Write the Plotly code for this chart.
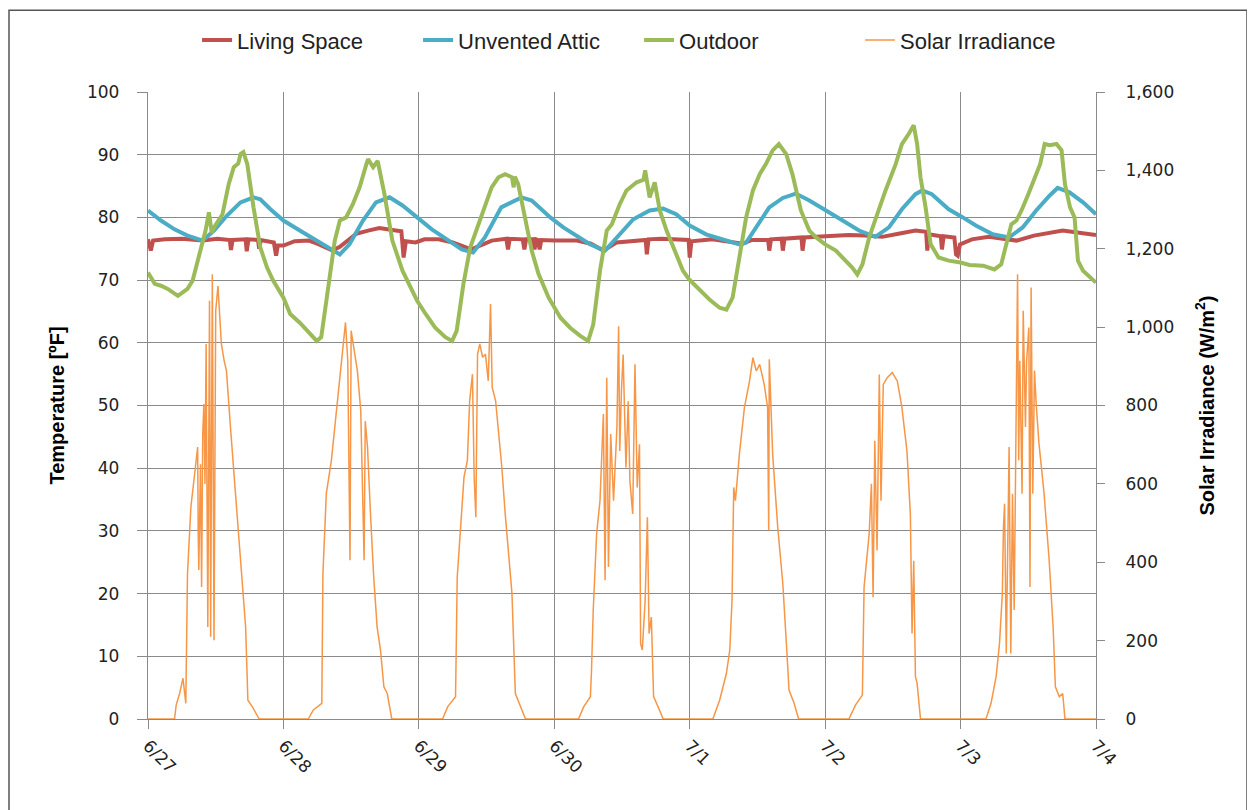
import plotly.graph_objects as go

# ---- tick labels (days) ----
day_hours = [0, 24, 48, 72, 96, 120, 144, 168]
day_labels = ["6/27", "6/28", "6/29", "6/30", "7/1", "7/2", "7/3", "7/4"]

# ---- Outdoor temperature (hours since 6/27 00:00, deg F) ----
outdoor_h = [0, 1.2, 2.3, 3.5, 5.3, 7.0, 7.9, 9.1, 10.2, 10.8, 11.3, 11.7, 13.2, 14.3, 15.2, 16.0,
             16.4, 16.9, 17.6, 18.7, 19.9, 21.1, 22.2, 24.0, 25.2, 26.9, 28.7, 29.9, 30.7, 31.9,
             33.1, 34.0, 35.1, 36.3, 37.5, 38.7, 39.0, 39.9, 40.7, 41.9, 43.3, 45.1, 46.2, 47.7,
             49.2, 50.9, 52.7, 53.9, 54.7, 55.9, 57.1, 58.5, 59.7, 60.9, 62.1, 63.3, 64.5, 64.8,
             65.0, 65.6, 66.8, 68.0, 69.2, 71.0, 73.1, 74.8, 76.6, 78.0, 78.9, 80.1, 81.3, 82.2,
             83.6, 84.8, 86.6, 87.8, 88.1, 88.9, 89.8, 90.7, 91.9, 93.4, 94.8, 95.9, 97.8, 99.5,
             101.3, 102.5, 103.6, 104.8, 106.0, 107.2, 108.4, 109.5, 110.7, 111.8, 113.1, 114.2,
             115.7, 117.2, 118.4, 120.0, 121.9, 123.6, 124.8, 125.7, 126.6, 127.8, 129.2, 130.7,
             132.5, 133.6, 134.8, 135.7, 136.3, 136.9, 137.8, 138.7, 140.1, 141.9, 144.0, 145.6,
             148.0, 150.0, 151.2, 152.1, 153.0, 153.9, 154.8, 156.0, 157.2, 158.1, 158.9, 159.8,
             161.0, 161.9, 162.5, 163.4, 164.2, 164.8, 165.7, 166.9, 168.0]
outdoor_t = [71.2, 69.4, 69.1, 68.6, 67.5, 68.6, 69.9, 74.1, 77.9, 80.8, 77.5, 78.4, 80.5, 85.3, 88.0, 88.6,
             90.1, 90.4, 88.5, 81.6, 75.2, 72.0, 69.9, 67.2, 64.6, 63.2, 61.4, 60.3, 60.9, 68.3,
             76.3, 79.5, 80.0, 82.1, 84.8, 88.5, 89.3, 88.0, 89.0, 83.7, 76.3, 71.5, 69.4, 66.7,
             64.6, 62.4, 60.9, 60.3, 61.9, 69.4, 75.2, 78.9, 81.6, 84.8, 86.4, 86.9, 86.4, 84.8,
             86.5, 85.3, 80.0, 74.7, 71.0, 67.2, 64.0, 62.4, 61.1, 60.3, 62.9, 71.5, 77.9, 78.9,
             82.1, 84.3, 85.6, 86.0, 87.5, 83.2, 85.6, 81.1, 77.9, 74.7, 71.5, 70.1, 68.3, 66.9,
             65.6, 65.3, 67.2, 74.1, 80.0, 84.3, 86.9, 88.5, 90.7, 91.7, 90.1, 86.9,
             81.1, 77.9, 76.8, 75.7, 74.7, 73.1, 72.0, 70.9, 72.5, 76.8, 80.5, 84.3,
             88.5, 91.7, 93.3, 94.7, 91.7, 86.4, 81.6, 75.7, 73.6, 73.1, 72.8, 72.4,
             72.3, 71.7, 72.5, 75.7, 78.9, 79.5, 81.1, 83.7, 86.4, 88.5, 91.7, 91.5,
             91.7, 90.7, 85.3, 81.6, 80.0, 73.1, 71.5, 70.4, 69.6]

# ---- Unvented attic temperature ----
attic_h = [0, 2.3, 4.7, 7.0, 9.7, 11.7, 14.0, 16.4, 18.7, 19.9, 21.7, 24.0, 26.9, 29.9, 32.2, 34.0,
           35.7, 38.1, 40.4, 42.8, 45.1, 47.7, 50.3, 53.3, 55.6, 57.6, 59.7, 62.6, 64.4, 66.2, 68.0,
           70.2, 71.3, 73.6, 76.0, 78.4, 81.0, 83.1, 86.0, 88.9, 91.3, 93.6, 96.0, 98.9, 101.9,
           104.8, 106.0, 107.8, 110.1, 112.5, 114.8, 117.2, 120.0, 123.1, 126.0, 128.9, 131.3,
           133.6, 136.0, 137.2, 138.9, 141.9, 144.4, 146.7, 149.7, 152.6, 155.0, 157.4, 159.8,
           161.2, 163.3, 165.7, 168.0]
attic_t = [81.1, 79.5, 78.1, 77.1, 76.3, 77.9, 80.3, 82.4, 83.2, 82.9, 81.3, 79.5, 77.9, 76.3, 74.9, 74.1,
           75.7, 79.5, 82.4, 83.2, 81.9, 80.0, 78.1, 76.3, 74.9, 74.4, 76.8, 81.6, 82.4, 83.2, 82.7,
           80.8, 80.0, 78.4, 77.1, 75.7, 74.7, 76.8, 79.7, 81.1, 81.4, 80.5, 78.7, 77.3, 76.5,
           75.7, 76.0, 78.4, 81.6, 83.1, 83.8, 82.7, 81.1, 79.5, 77.9, 76.9, 78.4,
           81.3, 83.7, 84.3, 83.7, 81.3, 80.0, 78.7, 77.3, 76.8, 78.4, 81.1, 83.5,
           84.7, 84.0, 82.4, 80.5]

# ---- Living space temperature ----
living_h = [0, 0.5, 0.9, 3, 6, 9.7, 12.3, 14.5, 14.7, 15.0, 17.3, 17.5, 17.8, 19.5, 19.7, 20.0,
            22.3, 22.7, 23.0, 24.0, 26.0, 28.5, 30.0, 32.7, 34.0, 36.9, 39.0, 41.0, 43.3, 44.9,
            45.3, 45.7, 47.4, 49.0, 51.5, 54.0, 57.3, 60.9, 63.5, 63.8, 64.1, 66.4, 66.7, 67.0,
            68.2, 68.5, 68.8, 69.1, 69.4, 69.7, 72, 76, 78.5, 80.7, 83.0, 86.0, 88.2, 88.4, 88.7,
            91, 93, 95.8, 96.0, 96.3, 100, 103, 105.4, 107, 109.9, 110.1, 110.4, 112.3, 112.5,
            112.8, 115.8, 116.0, 116.3, 118.4, 121, 124.2, 127, 130.1, 133, 136.0, 137.9, 138.1,
            138.4, 140.5, 140.7, 141.0, 142.9, 143.2, 143.5, 143.9, 146, 149, 153.9, 157, 162.1,
            165, 168]
living_t = [76.5, 74.7, 76.3, 76.5, 76.6, 76.3, 76.6, 76.4, 74.8, 76.4, 76.5, 74.6, 76.5, 76.4, 75.0, 76.4,
            76.0, 73.9, 75.5, 75.5, 76.2, 76.3, 75.8, 74.7, 75.3, 77.4, 77.9, 78.3, 78.0, 77.8,
            73.6, 76.2, 76.0, 76.5, 76.5, 76.0, 74.9, 76.3, 76.6, 74.9, 76.6, 76.5, 74.9, 76.5,
            76.5, 74.9, 76.5, 76.4, 74.9, 76.4, 76.3, 76.3, 75.8, 74.7, 76.0, 76.3, 76.4, 74.1, 76.5,
            76.6, 76.5, 76.4, 73.6, 76.2, 76.5, 76.2, 75.8, 76.4, 76.4, 74.7, 76.5, 76.6, 74.7,
            76.6, 76.8, 74.7, 76.8, 76.9, 77.0, 77.2, 77.1, 76.9, 77.4, 77.9, 77.7, 74.7,
            77.3, 77.0, 74.9, 77.0, 76.8, 74.1, 73.9, 75.7, 76.5, 76.9, 76.3, 77.1, 77.9,
            77.6, 77.2]

# ---- Solar irradiance (W/m2) ----
solar_h = [0, 4.7, 5.0, 5.6, 6.2, 6.5, 6.7, 7.0, 7.6, 8.2, 8.8, 8.9, 9.0, 9.3, 9.5, 9.7, 9.9, 10.1,
           10.3, 10.6, 10.9, 11.1, 11.4, 11.7, 12.0, 12.4, 12.8, 13.0, 13.5, 13.9, 14.7, 15.5, 16.4,
           17.3, 17.7, 18.5, 19.7,
           28.4, 29.3, 30.8, 31.0, 31.6, 32.5, 33.1, 33.7, 34.2, 34.6, 35.0, 35.4, 35.8, 36.0, 36.5,
           37.1, 37.7, 38.3, 38.5, 38.9, 39.4, 40.0, 40.6, 41.2, 41.8, 42.4, 43.2,
           52.2, 53.1, 54.5, 54.8, 55.4, 56.0, 56.6, 57.0, 57.5, 57.8, 58.1, 58.4, 58.8, 59.3, 59.8,
           60.3, 60.7, 61.0, 61.6, 62.2, 62.7, 63.3, 63.9, 64.5, 65.1, 66.0, 66.9,
           76.3, 77.2, 78.4, 78.6, 78.9, 79.5, 80.1, 80.7, 81.0, 81.3, 81.6, 82.0, 82.5, 83.1, 83.4,
           83.6, 83.9, 84.2, 84.7, 85.1, 85.4, 85.9, 86.3, 86.7, 87.1, 87.3, 87.6, 88.1, 88.5, 88.8,
           89.2, 89.6, 90.4, 91.3,
           100.1, 101.3, 102.5, 103.1, 103.5, 103.8, 104.1, 104.8, 105.7, 106.6, 107.2, 107.8, 108.4,
           109.2, 109.8, 110.0, 110.1, 110.7, 111.6, 112.5, 113.2, 113.6, 114.5, 115.3,
           124.2, 125.4, 126.6, 126.9, 127.8, 128.2, 128.5, 128.8, 129.2, 129.5, 129.6, 129.9, 130.3,
           131.0, 131.9, 132.8, 133.6, 134.5, 135.1, 135.4, 135.7, 136.0, 136.3, 136.9,
           148.5, 149.4, 150.3, 150.9, 151.4, 151.6, 151.8, 152.1, 152.4, 152.6, 152.9, 153.2, 153.5,
           153.8, 154.1, 154.3, 154.5, 154.9, 155.1, 155.5, 155.7, 156.1, 156.3, 156.5, 156.8, 157.1,
           157.4, 157.9, 158.8, 159.7, 160.4, 160.8, 161.5, 162.1, 162.5, 168]
solar_w = [0, 0, 36, 65, 104, 60, 40, 371, 541, 617, 694, 473, 380, 650, 337, 728, 804, 600,
           957, 235, 1067, 210, 1135, 201, 1042, 1105, 1016, 957, 914, 889, 728, 575, 405,
           235, 48, 31, 0,
           0, 23, 40, 371, 575, 660, 745, 830, 914, 957, 1012, 914, 405, 991, 948,
           889, 787, 405, 760, 694, 532, 362, 235, 176, 82, 65, 0,
           0, 31, 57, 362, 490, 617, 660, 812, 880, 617, 515, 931, 957, 923, 931,
           863, 1059, 846, 812, 728, 643, 524, 422, 320, 65, 31, 0,
           0, 31, 57, 125, 277, 472, 557, 778, 354, 871, 388, 727, 557, 744, 1002,
           684, 837, 930, 642, 811, 608, 523, 905, 591, 701, 192, 176, 303, 515, 218,
           260, 57, 31, 0,
           0, 48, 116, 176, 303, 591, 557, 676, 795, 862, 922, 888, 905,
           854, 795, 481, 918, 676, 489, 345, 176, 74, 40, 0,
           0, 36, 61, 337, 472, 600, 311, 710, 430, 727, 879, 557, 854,
           871, 884, 862, 795, 684, 523, 218, 404, 108, 91, 0,
           0, 40, 108, 193, 320, 490, 549, 167, 473, 694, 167, 575, 278,
           745, 1135, 660, 914, 575, 1042, 745, 914, 999, 337, 1101, 575, 889,
           804, 702, 575, 405, 235, 82, 57, 65, 0, 0]

temp_ticks = list(range(0, 101, 10))
solar_ticks = list(range(0, 1601, 200))

GRID = "#8a8a8a"
TICKFONT = dict(family="DejaVu Sans, Verdana, sans-serif", size=17, color="#222222")
TITLEFONT = dict(family="Liberation Sans, Arial, sans-serif", size=20, color="#000000", weight="bold")

# the page body adds an 8 px offset; margins below compensate for it
ML, MT = 140, 83
PW, PH = 948, 628

fig = go.Figure()
fig.add_trace(go.Scatter(x=living_h, y=living_t, name="Living Space", mode="lines",
                         line=dict(color="#C0504D", width=4)))
fig.add_trace(go.Scatter(x=attic_h, y=attic_t, name="Unvented Attic", mode="lines",
                         line=dict(color="#4BACC6", width=4)))
fig.add_trace(go.Scatter(x=outdoor_h, y=outdoor_t, name="Outdoor", mode="lines",
                         line=dict(color="#9BBB59", width=4)))
fig.add_trace(go.Scatter(x=solar_h, y=solar_w, name="Solar Irradiance", mode="lines",
                         line=dict(color="#F79646", width=1.5), yaxis="y2"))

fig.update_layout(
    width=1255, height=810,
    margin=dict(l=ML, r=1255 - ML - PW, t=MT, b=810 - MT - PH),
    paper_bgcolor="white", plot_bgcolor="white",
    showlegend=True,
    legend=dict(orientation="h", x=0.518, xanchor="center", y=1.081, yanchor="middle",
                font=dict(family="Liberation Sans, Arial, sans-serif", size=22, color="#222222"),
                entrywidth=176, entrywidthmode="pixels", tracegroupgap=0),
    xaxis=dict(range=[0, 168], tickmode="array", tickvals=day_hours, ticktext=day_labels,
               tickangle=45, showgrid=True, gridcolor=GRID, gridwidth=1.3,
               ticks="outside", ticklen=9, tickcolor=GRID, tickwidth=1.3,
               showline=True, linecolor=GRID, linewidth=1.3, zeroline=False,
               tickfont=TICKFONT),
    yaxis=dict(range=[0, 100], tickmode="array", tickvals=temp_ticks,
               showgrid=True, gridcolor=GRID, gridwidth=1.3,
               ticks="outside", ticklen=10, tickcolor=GRID, tickwidth=1.3,
               showline=True, linecolor=GRID, linewidth=1.3, zeroline=False,
               tickfont=TICKFONT, ticklabelstandoff=14,
               title=dict(text="Temperature [ºF]", font=TITLEFONT, standoff=16)),
    yaxis2=dict(range=[0, 1600], tickmode="array", tickvals=solar_ticks, tickformat=",",
                overlaying="y", side="right", showgrid=False,
                ticks="outside", ticklen=8, tickcolor=GRID, tickwidth=1.3,
                showline=True, linecolor=GRID, linewidth=1.3, zeroline=False,
                tickfont=TICKFONT, ticklabelstandoff=17,
                title=dict(text="Solar Irradiance (W/m<sup>2</sup>)", font=TITLEFONT, standoff=26)),
    shapes=[dict(type="rect", xref="paper", yref="paper",
                 x0=(1 - ML) / PW, x1=(1239 - ML) / PW,
                 y0=(MT + PH - 812) / PH, y1=(MT + PH - 1) / PH,
                 line=dict(color="#555555", width=1.5), fillcolor="rgba(0,0,0,0)", layer="above")],
)

fig.write_html("out.html")
